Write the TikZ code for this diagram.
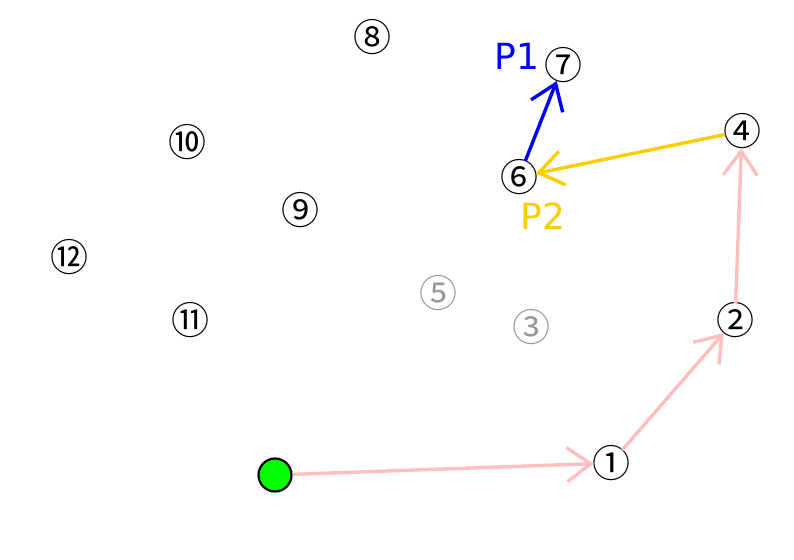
\documentclass[tikz,border=0pt]{standalone}
\usepackage{fontspec}
\setmainfont{DejaVu Sans}
\newfontfamily\cjk{Noto Sans CJK SC}
\usetikzlibrary{arrows.meta}
\definecolor{Rose}{HTML}{FFBFBF}
\definecolor{Gold}{HTML}{FFCC00}
\definecolor{Ash}{HTML}{999999}

\begin{document}
\begin{tikzpicture}[x=1pt,y=-1pt,>={Straight Barb[length=24pt,width=34pt]},
  num/.style={circle,minimum size=34pt,inner sep=0pt,
    label={[inner sep=0pt,font=\cjk\fontsize{38}{38}\selectfont]center:#1}},
  faint/.style={circle,minimum size=34pt,inner sep=0pt,
    label={[inner sep=0pt,text=Ash,font=\cjk\fontsize{38}{38}\selectfont]center:#1}},
  path/.style={->,line width=3.4pt}]
  \useasboundingbox (0,0) rectangle (794,559);
  \node[circle,draw,line width=2.2pt,fill=green,minimum size=33pt] (s) at (275,475) {};
  \node[num=①] (n1) at (611,463) {};
  \node[num=②] (n2) at (735,320) {};
  \node[faint=③] (n3) at (531,327) {};
  \node[num=④] (n4) at (742,131) {};
  \node[faint=⑤] (n5) at (438,293) {};
  \node[num=⑥] (n6) at (519,177) {};
  \node[num=⑦] (n7) at (563,65) {};
  \node[num=⑧] (n8) at (372,37) {};
  \node[num=⑨] (n9) at (300,210) {};
  \node[num=⑩] (n10) at (187,142) {};
  \node[num=⑪] (n11) at (190,320) {};
  \node[num=⑫] (n12) at (69,257) {};
  \draw[path,Rose] (s)--(n1);
  \draw[path,Rose] (n1)--(n2);
  \draw[path,Rose] (n2)--(n4);
  \draw[path,blue] (n6)--(n7);
  \draw[path,Gold] (n4)--(n6);
  \node[text=blue,font=\fontsize{36}{36}\selectfont] (p1) at (517,56) {P1};
  \node[text=Gold,font=\fontsize{36}{36}\selectfont] (p2) at (543,216) {P2};
\end{tikzpicture}
\end{document}
